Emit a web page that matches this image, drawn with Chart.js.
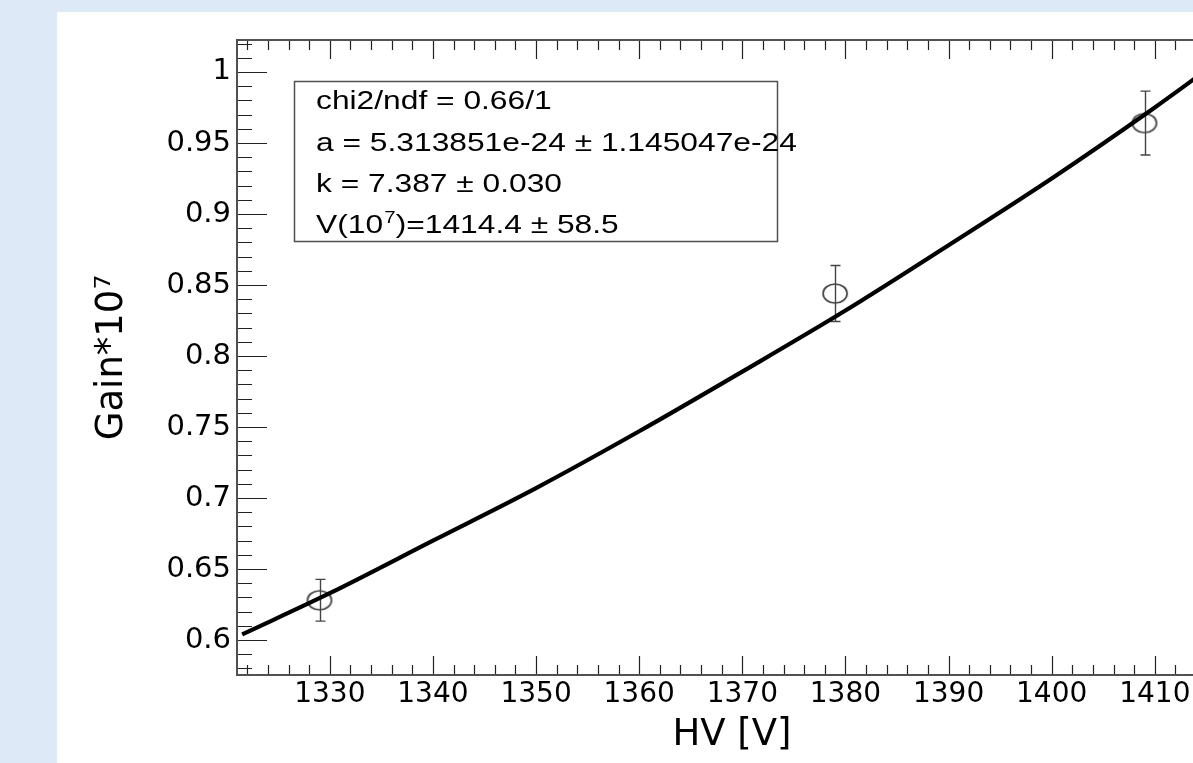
<!DOCTYPE html>
<html>
<head>
<meta charset="utf-8">
<script src="https://cdn.jsdelivr.net/npm/chart.js@4.4.0/dist/chart.umd.min.js"></script>
<style>
  html, body { margin: 0; padding: 0; overflow: hidden; background: #dde9f7; }
  canvas { display: block; }
</style>
</head>
<body>
<canvas id="gain" width="1240" height="763"></canvas>
<script>
// measured points
const hvValues = [1329, 1379, 1409];
const gainValues = [0.628, 0.844, 0.964];
const gainErrors = [0.0147, 0.0197, 0.0225];

// fitted curve
const fitHv = [1321.5, 1330, 1340, 1350, 1360, 1370, 1380, 1390, 1400, 1410, 1414];
const fitGain = [0.604, 0.633, 0.670, 0.707, 0.747, 0.789, 0.832, 0.878, 0.925, 0.975, 0.996];

const xTicks = [1330, 1340, 1350, 1360, 1370, 1380, 1390, 1400, 1410];
const xTickLabels = ["1330", "1340", "1350", "1360", "1370", "1380", "1390", "1400", "1410"];
const yTicks = [0.6, 0.65, 0.7, 0.75, 0.8, 0.85, 0.9, 0.95, 1];
const yTickLabels = ["0.6", "0.65", "0.7", "0.75", "0.8", "0.85", "0.9", "0.95", "1"];

const statLines = [
  "chi2/ndf = 0.66/1",
  "a = 5.313851e-24 \u00b1 1.145047e-24",
  "k = 7.387 \u00b1 0.030",
];
const vLine = ["V(10", "7", ")=1414.4 \u00b1 58.5"];

const frameGrey = "#505050";

Chart.defaults.font.family = "'DejaVu Sans', sans-serif";
Chart.defaults.color = "#000";

// open ellipse marker (the picture is a bit stretched sideways)
const ring = document.createElement("canvas");
ring.width = 28;
ring.height = 23;
(function () {
  const c = ring.getContext("2d");
  c.strokeStyle = "#444";
  c.lineWidth = 1.7;
  c.beginPath();
  c.ellipse(14, 11.5, 12, 9.5, 0, 0, Math.PI * 2);
  c.stroke();
})();

const panelPlugin = {
  id: "panel",
  beforeDraw(chart) {
    const ctx = chart.ctx;
    ctx.save();
    ctx.fillStyle = "#dde9f7";
    ctx.fillRect(0, 0, chart.width, chart.height);
    ctx.fillStyle = "#ffffff";
    ctx.fillRect(57, 12, chart.width - 57, chart.height - 12);
    ctx.restore();
  },
};

const errorBars = {
  id: "errorBars",
  beforeDatasetsDraw(chart) {
    const ctx = chart.ctx;
    const x = chart.scales.x, y = chart.scales.y;
    ctx.save();
    ctx.strokeStyle = "#444";
    ctx.lineWidth = 1.4;
    hvValues.forEach((hv, i) => {
      const px = Math.round(x.getPixelForValue(hv)) + 0.5;
      const top = y.getPixelForValue(gainValues[i] + gainErrors[i]);
      const bot = y.getPixelForValue(gainValues[i] - gainErrors[i]);
      ctx.beginPath();
      ctx.moveTo(px, top);
      ctx.lineTo(px, bot);
      ctx.moveTo(px - 5, top);
      ctx.lineTo(px + 5, top);
      ctx.moveTo(px - 5, bot);
      ctx.lineTo(px + 5, bot);
      ctx.stroke();
    });
    ctx.restore();
  },
};

const frameTicks = {
  id: "frameTicks",
  afterDraw(chart) {
    const ctx = chart.ctx;
    const a = chart.chartArea;
    const x = chart.scales.x, y = chart.scales.y;
    ctx.save();
    ctx.strokeStyle = "#222";
    ctx.lineWidth = 1.2;
    ctx.beginPath();
    // y minor every 0.01, major every 0.05
    for (let v = 0.58; v <= 1.0201; v += 0.01) {
      const py = Math.round(y.getPixelForValue(v)) + 0.5;
      ctx.moveTo(a.left, py);
      ctx.lineTo(a.left + 15, py);
    }
    yTicks.forEach(v => {
      const py = Math.round(y.getPixelForValue(v)) + 0.5;
      ctx.moveTo(a.left, py);
      ctx.lineTo(a.left + 30, py);
    });
    // x minor every 2 V, major every 10 V, bottom and top
    for (let v = 1322; v <= 1416; v += 2) {
      const px = Math.round(x.getPixelForValue(v)) + 0.5;
      ctx.moveTo(px, a.bottom);
      ctx.lineTo(px, a.bottom - 10);
      ctx.moveTo(px, a.top);
      ctx.lineTo(px, a.top + 10);
    }
    xTicks.forEach(v => {
      const px = Math.round(x.getPixelForValue(v)) + 0.5;
      ctx.moveTo(px, a.bottom);
      ctx.lineTo(px, a.bottom - 19);
      ctx.moveTo(px, a.top);
      ctx.lineTo(px, a.top + 19);
    });
    ctx.stroke();
    ctx.strokeStyle = frameGrey;
    ctx.lineWidth = 2;
    ctx.strokeRect(a.left, a.top, a.right - a.left, a.bottom - a.top);
    ctx.restore();
  },
};

const statBox = {
  id: "statBox",
  afterDatasetsDraw(chart) {
    const ctx = chart.ctx;
    const a = chart.chartArea;
    const bx = a.left + 57, by = a.top + 41;
    ctx.save();
    ctx.fillStyle = "#fff";
    ctx.fillRect(bx, by, 483, 160);
    ctx.strokeStyle = frameGrey;
    ctx.lineWidth = 1.5;
    ctx.strokeRect(bx + 0.5, by + 0.5, 483, 160);
    ctx.fillStyle = "#000";
    const sx = 1.27;
    const tx = bx + 22;
    const base = [by + 28, by + 70, by + 111, by + 152];
    ctx.font = "25px 'Liberation Sans', Arial, sans-serif";
    statLines.forEach((t, i) => {
      ctx.save();
      ctx.translate(tx, base[i]);
      ctx.scale(sx, 1);
      ctx.fillText(t, 0, 0);
      ctx.restore();
    });
    ctx.save();
    ctx.translate(tx, base[3]);
    ctx.scale(sx, 1);
    ctx.fillText(vLine[0], 0, 0);
    let w = ctx.measureText(vLine[0]).width;
    ctx.font = "16px 'Liberation Sans', Arial, sans-serif";
    ctx.fillText(vLine[1], w + 1, -10);
    w += ctx.measureText(vLine[1]).width + 1;
    ctx.font = "25px 'Liberation Sans', Arial, sans-serif";
    ctx.fillText(vLine[2], w, 0);
    ctx.restore();
    ctx.restore();
  },
};

const ctx = document.getElementById("gain").getContext("2d");
new Chart(ctx, {
  type: "scatter",
  data: {
    datasets: [
      {
        type: "line",
        label: "fit",
        data: fitHv.map((v, i) => ({ x: v, y: fitGain[i] })),
        borderColor: "#000",
        borderWidth: 4.2,
        pointRadius: 0,
        cubicInterpolationMode: "monotone",
        fill: false,
      },
      {
        label: "data",
        data: hvValues.map((v, i) => ({ x: v, y: gainValues[i] })),
        pointStyle: ring,
        pointRadius: 12,
        borderColor: "#444",
        backgroundColor: "rgba(0,0,0,0)",
        showLine: false,
      },
    ],
  },
  options: {
    responsive: false,
    animation: false,
    devicePixelRatio: 1,
    layout: { padding: { left: 0, top: 40, right: 8, bottom: 0 } },
    plugins: { legend: { display: false }, tooltip: { enabled: false } },
    scales: {
      x: {
        type: "linear",
        position: "bottom",
        min: 1321,
        max: 1417,
        afterFit: (s) => { s.height = 88; },
        afterBuildTicks: (s) => { s.ticks = xTicks.map(v => ({ value: v })); },
        grid: { display: false, drawTicks: false },
        border: { display: false },
        ticks: {
          padding: 3,
          autoSkip: false,
          maxRotation: 0,
          font: { size: 28 },
          callback: (v) => xTickLabels[xTicks.indexOf(v)],
        },
        title: {
          display: true,
          text: "HV [V]",
          font: { size: 37 },
          padding: { top: 0, bottom: 5 },
        },
      },
      y: {
        type: "linear",
        min: 0.5754,
        max: 1.0225,
        afterFit: (s) => { s.width = 237; },
        afterBuildTicks: (s) => { s.ticks = yTicks.map(v => ({ value: v })); },
        grid: { display: false, drawTicks: false },
        border: { display: false },
        ticks: {
          padding: 6,
          font: { size: 29 },
          callback: (v) => yTickLabels[yTicks.indexOf(v)],
        },
        title: {
          display: true,
          text: "Gain*10\u2077",
          font: { size: 37 },
          padding: { top: 90, bottom: 0 },
        },
      },
    },
  },
  plugins: [panelPlugin, errorBars, frameTicks, statBox],
});
</script>
</body>
</html>
